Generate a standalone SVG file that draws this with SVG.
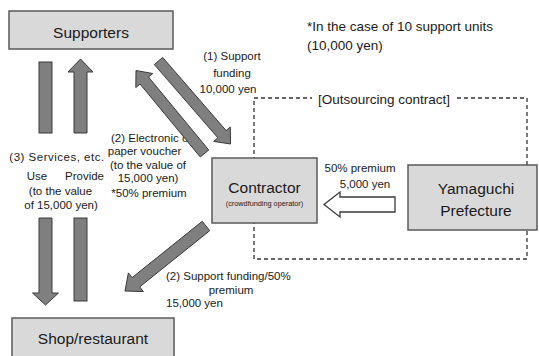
<svg xmlns="http://www.w3.org/2000/svg" width="539" height="356" viewBox="0 0 539 356">
<style>
  .box{fill:#d9d9d9;stroke:#595959;stroke-width:1.5}
  .arr{fill:#7f7f7f;stroke:#3a3a3a;stroke-width:1;stroke-linejoin:miter}
  .hollow{fill:#ffffff;stroke:#3a3a3a;stroke-width:1.3}
  .dash{fill:none;stroke:#333333;stroke-width:1.3;stroke-dasharray:4 3}
  text{font-family:"Liberation Sans",Arial,sans-serif;fill:#1a1a1a}
  .big{font-size:15.5px;text-anchor:middle}
  .lbl{font-size:11.5px}
  .mid{text-anchor:middle}
  .note{font-size:13.5px}
</style>
<rect width="539" height="356" fill="#ffffff"/>
<g id="labels">
  <text class="note" x="307" y="30.5">*In the case of 10 support units</text>
  <text class="note" x="307" y="49.5">(10,000 yen)</text>
  <text class="lbl mid" x="232" y="60">(1) Support</text>
  <text class="lbl mid" x="232" y="77">funding</text>
  <text class="lbl mid" x="228" y="93">10,000 yen</text>
  <text class="lbl mid" x="57" y="161" letter-spacing="0.5">(3) Services, etc.</text>
  <text class="lbl mid" x="37" y="180">Use</text>
  <text class="lbl mid" x="84.5" y="180">Provide</text>
  <text class="lbl mid" x="60.5" y="195">(to the value</text>
  <text class="lbl mid" x="61" y="209">of 15,000 yen)</text>
  <text class="lbl" x="111" y="142" font-size="11">(2) Electronic or</text>
  <text class="lbl mid" x="144.5" y="155" font-size="11">paper voucher</text>
  <text class="lbl mid" x="148" y="169" font-size="11">(to the value of</text>
  <text class="lbl mid" x="148" y="182" font-size="11">15,000 yen)</text>
  <text class="lbl mid" x="149" y="197" font-size="11">*50% premium</text>
  <text class="lbl mid" x="360" y="172">50% premium</text>
  <text class="lbl mid" x="365" y="188">5,000 yen</text>
  <text class="lbl" x="166" y="280" font-size="12">(2) Support funding/50%</text>
  <text class="lbl mid" x="231" y="294" font-size="13">premium</text>
  <text class="lbl" x="166" y="307" font-size="12">15,000 yen</text>
</g>
<g id="connectors">
  <path class="dash" d="M254,98 H312 M457,98 H527 V259 H254 V98"/>
  <text class="note" x="384" y="104" text-anchor="middle">[Outsourcing contract]</text>
  <rect class="arr" x="39" y="62" width="13" height="71"/>
  <polygon class="arr" points="39,218 52,218 52,293 58.5,293 45.5,305 32.5,293 39,293"/>
  <polygon class="arr" points="74,133 74,72 68,72 80.5,59 93,72 87,72 87,133"/>
  <rect class="arr" x="74" y="218" width="13" height="83"/>
  <polygon class="arr" points="154.35,64.6 217.83,137.78 213.67,141.39 230.5,144 230.29,126.97 226.13,130.58 162.65,57.4"/>
  <polygon class="arr" points="208.74,150 148.52,77.03 152.77,73.53 136,70.5 135.8,87.53 140.04,84.03 200.26,157"/>
  <polygon class="arr" points="202.25,221.32 132.17,277.56 128.41,272.88 125,291 143.43,291.6 139.68,286.92 209.76,230.68"/>
  <polygon class="hollow" points="395,197 340,197 340,192 324,204.5 340,217 340,212 395,212"/>
</g>
<g id="supporters">
  <rect class="box" x="9" y="11" width="164" height="38"/>
  <text class="big" x="91" y="37.5">Supporters</text>
</g>
<g id="contractor">
  <rect class="box" x="212" y="158" width="105" height="65"/>
  <text class="big" x="264.5" y="192.5">Contractor</text>
  <text x="264.5" y="205.5" font-size="7.3" text-anchor="middle">(crowdfunding operator)</text>
</g>
<g id="yamaguchi">
  <rect class="box" x="408" y="165" width="129" height="65"/>
  <text class="big" x="476" y="193.5">Yamaguchi</text>
  <text class="big" x="476" y="215.5">Prefecture</text>
</g>
<g id="shop">
  <rect class="box" x="12" y="318" width="162" height="50"/>
  <text class="big" x="93" y="343.5" font-size="16">Shop/restaurant</text>
</g>
</svg>
